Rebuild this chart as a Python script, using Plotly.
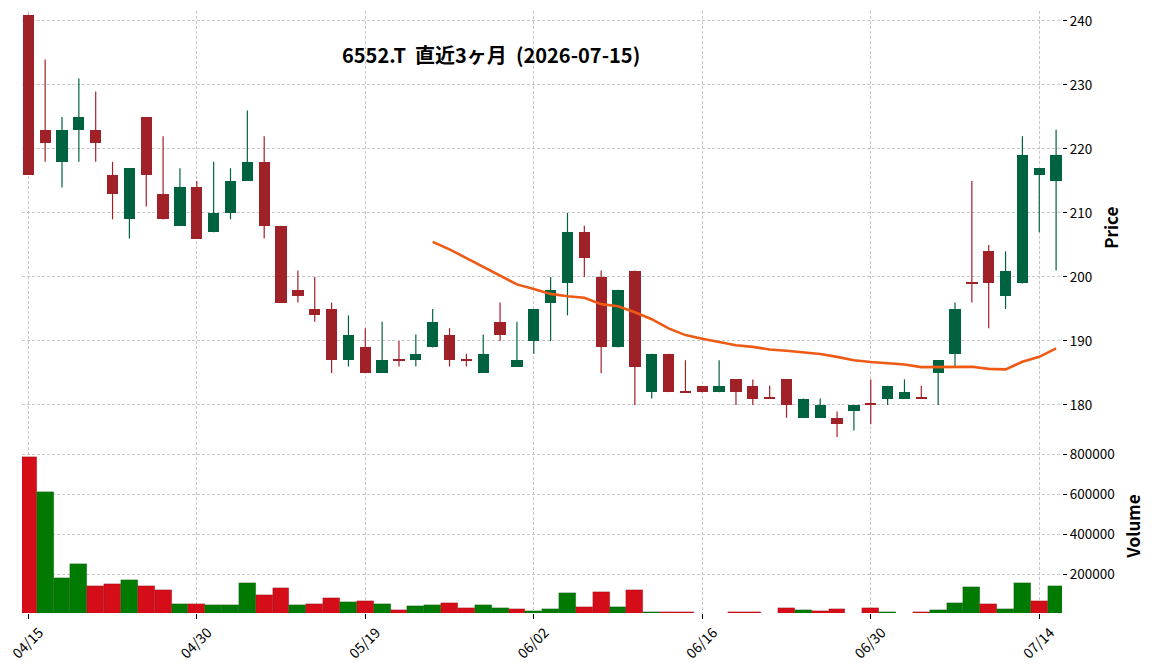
import plotly.graph_objects as go
import pandas as pd

# ---------------- data ----------------
dates = [
    "2026-04-15", "2026-04-16", "2026-04-17", "2026-04-20", "2026-04-21", "2026-04-22",
    "2026-04-23", "2026-04-24", "2026-04-27", "2026-04-28", "2026-04-30", "2026-05-01",
    "2026-05-07", "2026-05-08", "2026-05-11", "2026-05-12", "2026-05-13", "2026-05-14",
    "2026-05-15", "2026-05-18", "2026-05-19", "2026-05-20", "2026-05-21", "2026-05-22",
    "2026-05-25", "2026-05-26", "2026-05-27", "2026-05-28", "2026-05-29", "2026-06-01",
    "2026-06-02", "2026-06-03", "2026-06-04", "2026-06-05", "2026-06-08", "2026-06-09",
    "2026-06-10", "2026-06-11", "2026-06-12", "2026-06-15", "2026-06-16", "2026-06-17",
    "2026-06-18", "2026-06-19", "2026-06-22", "2026-06-23", "2026-06-24", "2026-06-25",
    "2026-06-26", "2026-06-29", "2026-06-30", "2026-07-01", "2026-07-02", "2026-07-03",
    "2026-07-06", "2026-07-07", "2026-07-08", "2026-07-09", "2026-07-10", "2026-07-13",
    "2026-07-14", "2026-07-15",
]
opens = [241, 223, 218, 223, 223, 216, 209, 225, 213, 208, 214, 207, 210, 215, 218, 208,
         198, 195, 195, 187, 189, 185, 187, 187, 189, 191, 187, 185, 193, 186, 190, 196,
         199, 207, 200, 189, 201, 182, 188, 182, 183, 182, 184, 183, 181, 184, 178, 178,
         178, 179, 180, 181, 181, 181, 185, 188, 199, 204, 197, 199, 216, 215]
highs = [241, 234, 225, 231, 229, 218, 217, 225, 222, 217, 215, 218, 217, 226, 222, 208,
         201, 200, 196, 194, 192, 193, 190, 191, 195, 192, 188, 191, 196, 193, 195, 200,
         210, 208, 201, 198, 201, 188, 188, 187, 183, 187, 184, 184, 183, 184, 181, 181,
         179, 180, 184, 183, 184, 183, 187, 196, 215, 205, 204, 222, 217, 223]
lows = [216, 218, 214, 218, 218, 209, 206, 211, 209, 208, 206, 207, 209, 215, 206, 196,
        196, 193, 185, 186, 185, 185, 186, 186, 189, 186, 186, 185, 190, 186, 188, 190,
        194, 200, 185, 189, 180, 181, 182, 182, 182, 182, 180, 180, 181, 178, 178, 178,
        175, 176, 177, 180, 181, 181, 180, 186, 196, 192, 195, 199, 207, 201]
closes = [216, 221, 223, 225, 221, 213, 217, 216, 209, 214, 206, 210, 215, 218, 208, 196,
          197, 194, 187, 191, 185, 187, 187, 188, 193, 187, 187, 188, 191, 187, 195, 198,
          207, 203, 189, 198, 186, 188, 182, 182, 182, 183, 182, 181, 181, 180, 181, 180,
          177, 180, 180, 183, 182, 181, 187, 195, 199, 199, 201, 219, 217, 219]
volumes = [787000, 612000, 182000, 252000, 142000, 152000, 172000, 142000, 122000, 52000,
           52000, 47000, 47000, 157000, 97000, 132000, 47000, 52000, 82000, 62000,
           67000, 52000, 22000, 42000, 47000, 57000, 32000, 47000, 32000, 27000,
           17000, 27000, 107000, 37000, 112000, 37000, 122000, 12000, 12000, 12000,
           0, 0, 12000, 12000, 0, 32000, 22000, 17000, 27000, 0,
           32000, 12000, 0, 12000, 22000, 57000, 137000, 52000, 27000, 157000,
           67000, 142000]
ma_window = 25
title_text = "6552.T  直近3ヶ月  (2026-07-15)"
tick_every = 10

# ---------------- styling ----------------
FONT = "Noto Sans CJK JP"
UP_C, DN_C = "#006340", "#a02128"
VUP_C, VDN_C = "#007a00", "#d50d18"
MA_C = "#ee5a14"
GRID_C = "#c8c8c8"
GRID_DASH = "3px,2px"

n = len(dates)
idx = list(range(n))
df = pd.DataFrame({"o": opens, "h": highs, "l": lows, "c": closes, "v": volumes}, index=idx)
ma = df["c"].rolling(ma_window).mean()

up = [c > o for o, c in zip(opens, closes)]
body_base = [min(o, c) for o, c in zip(opens, closes)]
body_h = [max(abs(c - o), 0.18) for o, c in zip(opens, closes)]
body_col = [UP_C if u else DN_C for u in up]

vol_up = []
for i in range(n):
    ref = closes[i - 1] if i > 0 else opens[i]
    vol_up.append(closes[i] > ref)
vol_col = [VUP_C if u else VDN_C for u in vol_up]

fig = go.Figure()

# wicks
for flag, col in ((True, UP_C), (False, DN_C)):
    wx, wy = [], []
    for i in idx:
        if up[i] == flag:
            wx += [i, i, None]
            wy += [lows[i], highs[i], None]
    fig.add_trace(go.Scatter(x=wx, y=wy, mode="lines", line=dict(color=col, width=1.2),
                             hoverinfo="skip", showlegend=False, xaxis="x", yaxis="y"))

# bodies
fig.add_trace(go.Bar(x=idx, y=body_h, base=body_base, width=0.67,
                     marker=dict(color=body_col, line=dict(width=0)),
                     showlegend=False, xaxis="x", yaxis="y"))

# moving average
fig.add_trace(go.Scatter(x=idx, y=ma, mode="lines", line=dict(color=MA_C, width=2.6),
                         showlegend=False, xaxis="x", yaxis="y"))

# volume
fig.add_trace(go.Bar(x=idx, y=volumes, width=1.0,
                     marker=dict(color=vol_col, line=dict(width=0.5, color="rgba(0,0,0,0.25)")),
                     showlegend=False, xaxis="x2", yaxis="y2"))

tickvals = idx[::tick_every]
ticktext = [pd.Timestamp(dates[i]).strftime("%m/%d") for i in tickvals]

xrange = [-0.374, 61.35]
common_x = dict(range=xrange, tickvals=tickvals, showgrid=True, gridcolor=GRID_C,
                griddash=GRID_DASH, gridwidth=0.8, zeroline=False, showline=False,
                automargin=False)

fig.update_layout(
    width=1152, height=670,
    margin=dict(l=22, r=90, t=11, b=57),
    paper_bgcolor="white", plot_bgcolor="white",
    font=dict(family=FONT, size=13, color="black"),
    barmode="overlay",
    bargap=0,
    xaxis=dict(**common_x, domain=[0, 1], anchor="y", showticklabels=False, ticks=""),
    xaxis2=dict(**common_x, domain=[0, 1], anchor="y2", ticktext=ticktext,
                tickangle=-45, ticks="outside", ticklen=5, tickcolor="black",
                ticklabeloverflow="allow", ticklabelshift=11, ticklabelstandoff=0,
                tickfont=dict(size=14)),
    yaxis=dict(domain=[0.2874, 1], range=[174.53, 241.56], side="right", anchor="x",
               tickvals=[180, 190, 200, 210, 220, 230, 240], ticks="outside", ticklen=4,
               tickcolor="black", showgrid=True, gridcolor=GRID_C, griddash=GRID_DASH,
               gridwidth=0.8, zeroline=False, showline=False, tickfont=dict(size=13.5),
               automargin=False),
    yaxis2=dict(domain=[0, 0.284], range=[8000, 861500], side="right", anchor="x2",
                tickvals=[200000, 400000, 600000, 800000], tickformat="d",
                ticks="outside", ticklen=4, tickcolor="black", showgrid=True,
                gridcolor=GRID_C, griddash=GRID_DASH, gridwidth=0.8, zeroline=False,
                showline=False, tickfont=dict(size=13.5), automargin=False),
    annotations=[
        dict(text="<b>" + title_text + "</b>", xref="paper", yref="paper",
             x=0.451, y=0.927, xanchor="center", yanchor="middle", showarrow=False,
             font=dict(family=FONT, size=20, color="black")),
        dict(text="<b>Price</b>", xref="paper", yref="paper", x=1.046, y=0.6395,
             xanchor="center", yanchor="middle", textangle=-90, showarrow=False,
             font=dict(family=FONT, size=17, color="black")),
        dict(text="<b>Volume</b>", xref="paper", yref="paper", x=1.068, y=0.1429,
             xanchor="center", yanchor="middle", textangle=-90, showarrow=False,
             font=dict(family=FONT, size=17, color="black")),
    ],
)

fig.write_html("out.html")
